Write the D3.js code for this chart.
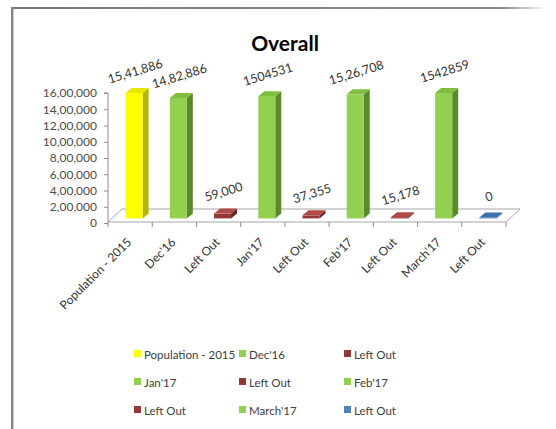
<!DOCTYPE html>
<html>
<head>
<meta charset="utf-8">
<script src="https://cdn.jsdelivr.net/npm/d3@7"></script>
<style>
  body { margin: 0; background: #fff; }
  svg { display: block; font-family: Lato, "Open Sans", sans-serif; }
</style>
</head>
<body>
<script>
var w = 556;
var h = 429;

// data
var categories = ["Population - 2015", "Dec'16", "Left Out", "Jan'17", "Left Out", "Feb'17", "Left Out", "March'17", "Left Out"];
var values = [1541886, 1482886, 59000, 1504531, 37355, 1526708, 15178, 1542859, 0];
var valueLabels = ["15,41,886", "14,82,886", "59,000", "1504531", "37,355", "15,26,708", "15,178", "1542859", "0"];
var yTicks = [0, 200000, 400000, 600000, 800000, 1000000, 1200000, 1400000, 1600000];

// colours per category (front, side, top)
var palette = [
  ["#ffff00", "#b5b500", "#e8e800"],
  ["#92d050", "#5b8a2e", "#7fbf3f"],
  ["#953735", "#6b2422", "#b04a47"],
  ["#92d050", "#5b8a2e", "#7fbf3f"],
  ["#953735", "#6b2422", "#b04a47"],
  ["#92d050", "#5b8a2e", "#7fbf3f"],
  ["#953735", "#6b2422", "#b04a47"],
  ["#92d050", "#5b8a2e", "#7fbf3f"],
  ["#4f81bd", "#365f91", "#3f6fae"]
];

// indian digit grouping 16,00,000
function indian(n) {
  var s = String(n);
  if (s.length <= 3) return s;
  var last = s.slice(-3), rest = s.slice(0, -3);
  return rest.replace(/\B(?=(\d{2})+(?!\d))/g, ",") + "," + last;
}

var svg = d3.select("body")
  .append("svg")
  .attr("width", w)
  .attr("height", h);

// frame
var grad = svg.append("defs").append("linearGradient").attr("id", "fade");
grad.append("stop").attr("offset", "0%").attr("stop-color", "#7a7a7a");
grad.append("stop").attr("offset", "92%").attr("stop-color", "#8a8a8a");
grad.append("stop").attr("offset", "100%").attr("stop-color", "#ffffff");
svg.append("rect").attr("x", 11).attr("y", 7).attr("width", 535).attr("height", 2).attr("fill", "url(#fade)");
svg.append("rect").attr("x", 11).attr("y", 7).attr("width", 2).attr("height", h - 7).attr("fill", "#858585");
svg.append("rect").attr("x", 13).attr("y", 9).attr("width", 1).attr("height", h - 9).attr("fill", "#d0d0d0");

// title
svg.append("text")
  .attr("x", 285).attr("y", 51)
  .attr("text-anchor", "middle")
  .attr("font-size", 21).attr("font-weight", "bold")
  .attr("fill", "#000")
  .text("Overall");

var x0 = 108, x1 = 506;
var depth = [14, -13];
var floorY = 222;

var x = d3.scaleBand().domain(d3.range(categories.length)).range([x0, x1]);
var y = d3.scaleLinear().domain([0, 1600000]).range([223, 93]);
// bars sit a little back on the floor
var barOff = [4, -3.6];
var yb = d3.scaleLinear().domain([0, 1600000]).range([floorY + barOff[1], floorY + barOff[1] - 130]);

// floor
svg.append("polygon")
  .attr("points", [[x0, floorY], [x1, floorY], [x1 + depth[0], floorY + depth[1]], [x0 + depth[0], floorY + depth[1]]].join(" "))
  .attr("fill", "#fff")
  .attr("stroke", "#a6a6a6")
  .attr("stroke-width", 1);

// y axis
var yAxis = d3.axisLeft(y).tickValues(yTicks).tickFormat(indian).tickSize(4).tickPadding(7);
var gy = svg.append("g").attr("transform", "translate(" + x0 + ",0)").call(yAxis);
gy.select(".domain").attr("stroke", "#8c8c8c").attr("d", "M-4," + y(1600000) + "H0V" + floorY);
gy.selectAll(".tick line").attr("stroke", "#8c8c8c");
gy.selectAll(".tick text").attr("font-size", 12).attr("fill", "#4d4d4d").attr("font-family", "Lato, sans-serif");

// x ticks
svg.selectAll("line.xt")
  .data(d3.range(categories.length + 1))
  .enter()
  .append("line")
  .attr("class", "xt")
  .attr("x1", function(d) { return x0 + d * x.bandwidth(); })
  .attr("x2", function(d) { return x0 + d * x.bandwidth(); })
  .attr("y1", floorY)
  .attr("y2", floorY + 5)
  .attr("stroke", "#8c8c8c");

// x labels
svg.selectAll("text.xl")
  .data(categories)
  .enter()
  .append("text")
  .attr("class", "xl")
  .attr("text-anchor", "end")
  .attr("font-size", 12)
  .attr("fill", "#333")
  .attr("transform", function(d, i) {
    return "translate(" + (x(i) + x.bandwidth() / 2 + 2) + ",243) rotate(-45)";
  })
  .text(function(d) { return d; });

// bars
var faceW = 17, sd = [6, -5];
var bars = svg.selectAll("g.bar")
  .data(values)
  .enter()
  .append("g")
  .attr("class", "bar");

function fl(i) { return x(i) + x.bandwidth() / 2 + barOff[0] - faceW / 2; }

bars.append("polygon")
  .attr("points", function(d, i) {
    var l = fl(i), r = l + faceW, t = Math.min(yb(d), yb(0) - 1), b = yb(0);
    return [[r, t], [r + sd[0], t + sd[1]], [r + sd[0], b + sd[1]], [r, b]].join(" ");
  })
  .attr("fill", function(d, i) { return palette[i][1]; });
bars.append("rect")
  .attr("x", function(d, i) { return fl(i); })
  .attr("y", function(d) { return Math.min(yb(d), yb(0) - 1); })
  .attr("width", faceW)
  .attr("height", function(d) { return Math.max(yb(0) - yb(d), 1); })
  .attr("fill", function(d, i) { return palette[i][0]; });
bars.append("polygon")
  .attr("points", function(d, i) {
    var l = fl(i), r = l + faceW, t = Math.min(yb(d), yb(0) - 1);
    return [[l, t], [r, t], [r + sd[0], t + sd[1]], [l + sd[0], t + sd[1]]].join(" ");
  })
  .attr("fill", function(d, i) { return palette[i][2]; });

// value labels
svg.selectAll("text.vl")
  .data(values)
  .enter()
  .append("text")
  .attr("class", "vl")
  .attr("text-anchor", "middle")
  .attr("dominant-baseline", "central")
  .attr("font-size", 12.5)
  .attr("fill", "#333")
  .attr("transform", function(d, i) {
    return "translate(" + (fl(i) + faceW / 2 + 1) + "," + (yb(d) - 22) + ") rotate(-17)";
  })
  .text(function(d, i) { return valueLabels[i]; });

// legend, 3 columns
var leg = svg.selectAll("g.leg")
  .data(categories)
  .enter()
  .append("g")
  .attr("class", "leg")
  .attr("transform", function(d, i) {
    return "translate(" + (134 + (i % 3) * 105) + "," + (354 + Math.floor(i / 3) * 28) + ")";
  });
leg.append("rect")
  .attr("x", 0).attr("y", -4)
  .attr("width", 7).attr("height", 7)
  .attr("fill", function(d, i) { return palette[i][0]; });
leg.append("text")
  .attr("x", 10).attr("y", 0)
  .attr("dominant-baseline", "central")
  .attr("font-size", 11.5)
  .attr("fill", "#404040")
  .text(function(d) { return d; });
</script>
</body>
</html>
